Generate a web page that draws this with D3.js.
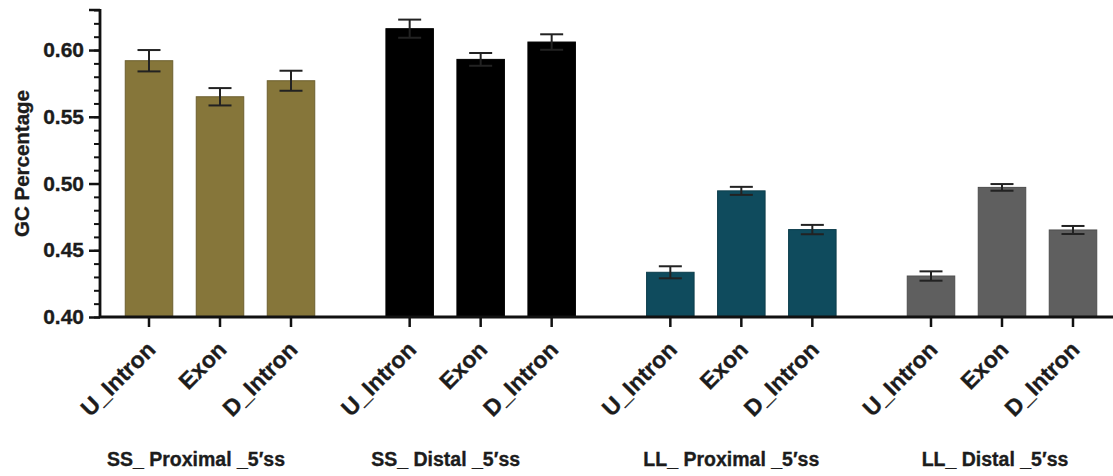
<!DOCTYPE html>
<html>
<head>
<meta charset="utf-8">
<script src="https://cdn.jsdelivr.net/npm/d3@7"></script>
<style>
  html, body { margin: 0; padding: 0; background: #fff; }
  svg { display: block; }
  text { font-family: "Liberation Sans", Arial, sans-serif; font-weight: bold; fill: #1c1c1c; stroke: #1c1c1c; stroke-width: 0.35px; }
</style>
</head>
<body>
<svg id="chart" width="1113" height="476"></svg>
<script>
// Splice-site groups and the three regions measured in each
const groups = ["SS_ Proximal _5′ss", "SS_ Distal _5′ss", "LL_ Proximal _5′ss", "LL_ Distal _5′ss"];
const regions = ["U_Intron", "Exon", "D_Intron"];

// Mean GC fraction per region, one array per group
const ssProximal = [0.592, 0.565, 0.577];
const ssDistal   = [0.616, 0.593, 0.606];
const llProximal = [0.4335, 0.4945, 0.4655];
const llDistal   = [0.4307, 0.4971, 0.4652];

// Standard error of each mean
const ssProximalErr = [0.0080, 0.0065, 0.0075];
const ssDistalErr   = [0.0068, 0.0048, 0.0058];
const llProximalErr = [0.0045, 0.0030, 0.0035];
const llDistalErr   = [0.0035, 0.0025, 0.0030];

// Y axis ticks
const majorTicks = [0.40, 0.45, 0.50, 0.55, 0.60];
const minorTicks = d3.range(40, 64).map(d => d / 100);

const groupColors = ["#86763a", "#000000", "#0f4b5d", "#5f5f5f"];

const means = [ssProximal, ssDistal, llProximal, llDistal];
const errs = [ssProximalErr, ssDistalErr, llProximalErr, llDistalErr];

const rows = [];
groups.forEach((g, gi) => {
  regions.forEach((r, ri) => {
    rows.push({ group: g, gi, region: r, value: means[gi][ri], err: errs[gi][ri] });
  });
});

const svg = d3.select("#chart");
const axisX = 100, baseY = 317, topY = 10;

const y = d3.scaleLinear().domain([0.40, 0.63]).range([baseY, topY]);
const xGroup = d3.scalePoint().domain(groups).range([220, 1002]);
const xRegion = d3.scalePoint().domain(regions).range([-71, 71]);
const barW = 47.5;
const xOf = d => xGroup(d.group) + xRegion(d.region);

// Bars
svg.append("g").selectAll("rect").data(rows).join("rect")
  .attr("x", d => xOf(d) - barW / 2)
  .attr("y", d => y(d.value))
  .attr("width", barW)
  .attr("height", d => y(0.40) - y(d.value))
  .attr("fill", d => groupColors[d.gi])
  .attr("stroke", d => d3.color(groupColors[d.gi]).darker(0.6))
  .attr("stroke-width", 1);

// Error bars (mean ± SEM)
const eb = svg.append("g").attr("stroke", "#222").attr("stroke-width", 2).attr("fill", "none");
rows.forEach(d => {
  const cx = xOf(d), capW = 11.5;
  const yt = y(d.value + d.err), yb = y(d.value - d.err);
  eb.append("line").attr("x1", cx).attr("x2", cx).attr("y1", yt).attr("y2", yb);
  eb.append("line").attr("x1", cx - capW).attr("x2", cx + capW).attr("y1", yt).attr("y2", yt);
  eb.append("line").attr("x1", cx - capW).attr("x2", cx + capW).attr("y1", yb).attr("y2", yb);
});

// Y axis: minor ticks every 0.01, labelled ticks every 0.05
const yMinor = svg.append("g").attr("transform", `translate(${axisX},0)`)
  .call(d3.axisLeft(y).tickValues(minorTicks).tickSize(6).tickFormat(""));
yMinor.select(".domain").remove();
yMinor.selectAll(".tick line").attr("stroke", "#111").attr("stroke-width", 2);

const yMajor = svg.append("g").attr("transform", `translate(${axisX},0)`)
  .call(d3.axisLeft(y).tickValues(majorTicks).tickSize(11).tickPadding(5).tickFormat(d3.format(".2f")));
yMajor.select(".domain").remove();
yMajor.selectAll(".tick line").attr("stroke", "#111").attr("stroke-width", 2.5);
yMajor.selectAll(".tick text").attr("font-size", 21).attr("fill", "#1c1c1c")
  .attr("font-family", "Liberation Sans, Arial, sans-serif").attr("font-weight", "bold");

// top tick at the end of the axis
svg.append("line").attr("x1", axisX - 11).attr("x2", axisX).attr("y1", y(0.63)).attr("y2", y(0.63))
  .attr("stroke", "#111").attr("stroke-width", 2.5);

svg.append("line").attr("x1", axisX).attr("x2", axisX).attr("y1", y(0.63) - 1).attr("y2", baseY + 1)
  .attr("stroke", "#111").attr("stroke-width", 2.8);

// X axis baseline and ticks under each bar
svg.append("line").attr("x1", axisX).attr("x2", 1113).attr("y1", baseY).attr("y2", baseY)
  .attr("stroke", "#111").attr("stroke-width", 2.8);
svg.append("g").selectAll("line").data(rows).join("line")
  .attr("x1", d => xOf(d)).attr("x2", d => xOf(d))
  .attr("y1", baseY).attr("y2", baseY + 10)
  .attr("stroke", "#111").attr("stroke-width", 2.5);

// Region labels, rotated
svg.append("g").selectAll("text").data(rows).join("text")
  .attr("transform", d => `translate(${xOf(d) + 8},${baseY + 34}) rotate(-45)`)
  .attr("text-anchor", "end")
  .attr("font-size", 23)
  .text(d => d.region);

// Group labels
const groupLabelShift = [-24, -35, -10, -7];
svg.append("g").selectAll("text").data(groups).join("text")
  .attr("x", (g, i) => xGroup(g) + groupLabelShift[i])
  .attr("y", 466)
  .attr("text-anchor", "middle")
  .attr("font-size", 19.5)
  .text(g => g);

// Y axis title
svg.append("text")
  .attr("transform", `translate(29,${(y(0.63) + baseY) / 2}) rotate(-90)`)
  .attr("text-anchor", "middle")
  .attr("font-size", 20.5)
  .text("GC Percentage");
</script>
</body>
</html>
